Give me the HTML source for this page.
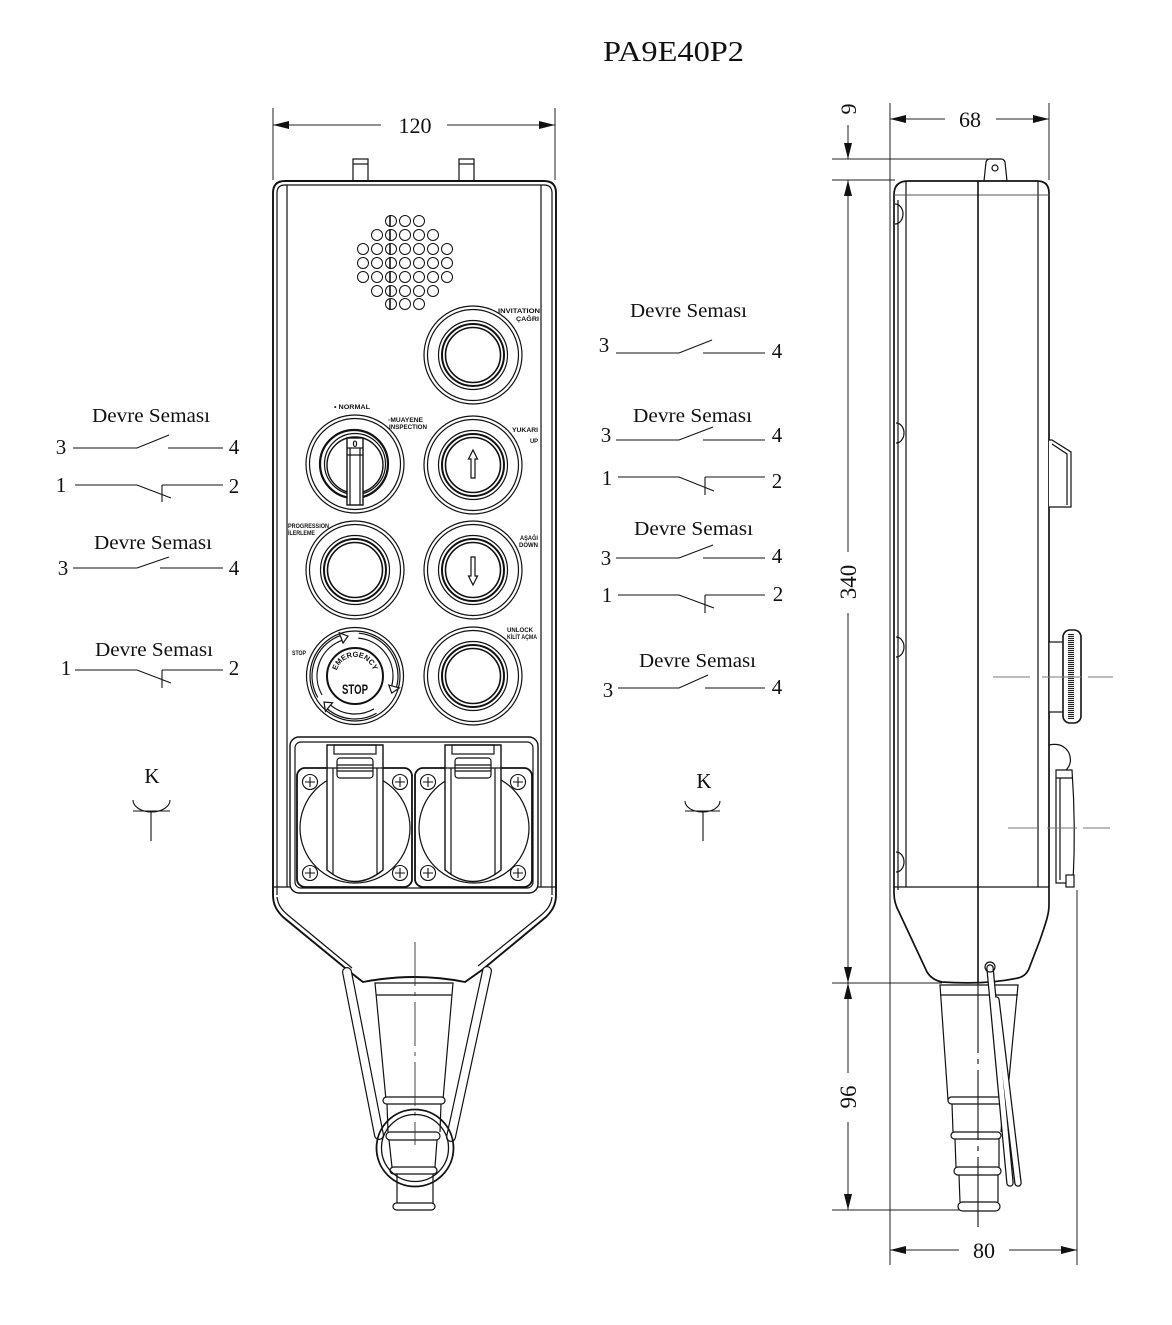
<!DOCTYPE html>
<html><head><meta charset="utf-8">
<style>
html,body{margin:0;padding:0;background:#fff;}
svg{display:block;}
text{font-family:"Liberation Serif",serif;fill:#111;stroke:none;}
.s{font-family:"Liberation Sans",sans-serif;font-weight:bold;}
</style></head><body>
<svg width="1172" height="1325" viewBox="0 0 1172 1325" xmlns="http://www.w3.org/2000/svg">
<defs>
<pattern id="kn" width="4" height="2" patternUnits="userSpaceOnUse"><rect width="4" height="2" fill="#fff"/><rect width="4" height="1.1" fill="#222"/></pattern>
<path id="emarc" d="M336.3,679.3 A19,19 0 1 1 373.7,679.3"/>
</defs>

<!-- Title -->
<text x="603" y="61" font-size="28" textLength="141" lengthAdjust="spacingAndGlyphs">PA9E40P2</text>

<g fill="none" stroke="#222" stroke-width="1">
<!-- ===== FRONT VIEW dimension 120 ===== -->
<line x1="273" y1="108" x2="273" y2="180"/>
<line x1="555" y1="108" x2="555" y2="180"/>
<line x1="273" y1="125" x2="381" y2="125"/>
<line x1="447" y1="125" x2="555" y2="125"/>
</g>
<polygon points="273,125 289,121 289,129" fill="#111"/>
<polygon points="555,125 539,121 539,129" fill="#111"/>
<text x="415" y="133" font-size="22" text-anchor="middle">120</text>

<g fill="none" stroke="#111" stroke-width="1.2">
<!-- pins -->
<rect x="353" y="159" width="15" height="22" fill="#fff"/>
<line x1="353" y1="164" x2="368" y2="164"/>
<rect x="459" y="159" width="15" height="22" fill="#fff"/>
<line x1="459" y1="164" x2="474" y2="164"/>

<!-- body -->
<path d="M273,895 L273,193 Q273,181 285,181 L544,181 Q556,181 556,193 L556,895 C556,905 552,911 546,917 L482,970 L465,982 Q415,972 363,982 L350,972 L283,917 C277,911 273,905 273,895 Z" stroke-width="1.9" fill="#fff"/>
<path d="M277,895 L277,193 Q277,185 285,185 L544,185 Q552,185 552,193 L552,895"/>
<path d="M277,897 C278,906 283,911 289,916 L352,968"/>
<path d="M552,897 C551,906 546,911 540,916 L478,966"/>
<line x1="287" y1="185" x2="287" y2="887"/>
<line x1="541" y1="185" x2="541" y2="887"/>
<line x1="273" y1="887" x2="556" y2="887"/>

<!-- speaker grill -->
<g stroke-width="1">
<circle cx="391" cy="221" r="5.5"/><circle cx="405" cy="221" r="5.5"/><circle cx="419" cy="221" r="5.5"/>
<circle cx="377" cy="235" r="5.5"/><circle cx="391" cy="235" r="5.5"/><circle cx="405" cy="235" r="5.5"/><circle cx="419" cy="235" r="5.5"/><circle cx="433" cy="235" r="5.5"/>
<circle cx="363" cy="249" r="5.5"/><circle cx="377" cy="249" r="5.5"/><circle cx="391" cy="249" r="5.5"/><circle cx="405" cy="249" r="5.5"/><circle cx="419" cy="249" r="5.5"/><circle cx="433" cy="249" r="5.5"/><circle cx="447" cy="249" r="5.5"/>
<circle cx="363" cy="263" r="5.5"/><circle cx="377" cy="263" r="5.5"/><circle cx="391" cy="263" r="5.5"/><circle cx="405" cy="263" r="5.5"/><circle cx="419" cy="263" r="5.5"/><circle cx="433" cy="263" r="5.5"/><circle cx="447" cy="263" r="5.5"/>
<circle cx="363" cy="277" r="5.5"/><circle cx="377" cy="277" r="5.5"/><circle cx="391" cy="277" r="5.5"/><circle cx="405" cy="277" r="5.5"/><circle cx="419" cy="277" r="5.5"/><circle cx="433" cy="277" r="5.5"/><circle cx="447" cy="277" r="5.5"/>
<circle cx="377" cy="291" r="5.5"/><circle cx="391" cy="291" r="5.5"/><circle cx="405" cy="291" r="5.5"/><circle cx="419" cy="291" r="5.5"/><circle cx="433" cy="291" r="5.5"/>
<circle cx="391" cy="304" r="5.5"/><circle cx="405" cy="304" r="5.5"/><circle cx="419" cy="304" r="5.5"/>
<line x1="390" y1="215" x2="390" y2="310" stroke-width="1.6" stroke-dasharray="12 2"/>
</g>

<!-- INVITATION button -->
<circle cx="473" cy="355" r="49"/><circle cx="473" cy="355" r="45.5"/>
<circle cx="473" cy="355" r="34.5"/><circle cx="473" cy="355" r="31" stroke-width="2"/><circle cx="473" cy="355" r="27.5" stroke-width="1.6"/>

<!-- SELECTOR -->
<circle cx="355" cy="464" r="49"/><circle cx="355" cy="464" r="45.5"/>
<circle cx="354" cy="464" r="34" stroke-width="2.2"/><circle cx="355" cy="464" r="30.5"/><circle cx="355" cy="465" r="28" stroke-width="1.4"/>
<rect x="347" y="438" width="16" height="67" fill="#fff" stroke-width="1.4"/>
<line x1="350" y1="448" x2="350" y2="505"/><line x1="360" y1="448" x2="360" y2="505"/>
<line x1="347" y1="448" x2="363" y2="448"/><line x1="347" y1="455" x2="363" y2="455"/>

<!-- YUKARI -->
<circle cx="473" cy="465" r="49"/><circle cx="473" cy="465" r="45.5"/>
<circle cx="473" cy="465" r="34.5"/><circle cx="473" cy="465" r="31" stroke-width="2"/><circle cx="473" cy="465" r="27.5" stroke-width="1.6"/>
<polygon points="473,450 477.5,459 475,459 475,478 471,478 471,459 468.5,459"/>

<!-- PROGRESSION -->
<circle cx="355" cy="570" r="49"/><circle cx="355" cy="570" r="45.5"/>
<circle cx="355" cy="570" r="34.5"/><circle cx="355" cy="570" r="31" stroke-width="2"/><circle cx="355" cy="570" r="27.5" stroke-width="1.6"/>

<!-- ASAGI -->
<circle cx="473" cy="570" r="49"/><circle cx="473" cy="570" r="45.5"/>
<circle cx="473" cy="570" r="34.5"/><circle cx="473" cy="570" r="31" stroke-width="2"/><circle cx="473" cy="570" r="27.5" stroke-width="1.6"/>
<polygon points="473,585 477.5,576 475,576 475,557 471,557 471,576 468.5,576"/>

<!-- UNLOCK -->
<circle cx="473" cy="676" r="49"/><circle cx="473" cy="676" r="45.5"/>
<circle cx="473" cy="676" r="34.5"/><circle cx="473" cy="676" r="31" stroke-width="2"/><circle cx="473" cy="676" r="27.5" stroke-width="1.6"/>

<!-- EMERGENCY -->
<circle cx="355" cy="676" r="48.5"/><circle cx="355" cy="676" r="45"/>
<circle cx="355" cy="676" r="43" stroke-dasharray="75 300" transform="rotate(-85 355 676)"/>
<circle cx="355" cy="676" r="38" stroke-dasharray="66.3 300" transform="rotate(-85 355 676)"/>
<circle cx="355" cy="676" r="43" stroke-dasharray="52.5 300" transform="rotate(60 355 676)"/>
<circle cx="355" cy="676" r="38" stroke-dasharray="46.4 300" transform="rotate(60 355 676)"/>
<circle cx="355" cy="676" r="43" stroke-dasharray="75 300" transform="rotate(150 355 676)"/>
<circle cx="355" cy="676" r="38" stroke-dasharray="66.3 300" transform="rotate(150 355 676)"/>
<polygon points="399.4,687.9 388.8,685.1 391.7,693.1" fill="#fff"/>
<polygon points="325.4,711.2 332.5,702.8 324.0,702.0" fill="#fff"/>
<polygon points="339.3,632.8 343.0,643.1 348.0,636.1" fill="#fff"/>
<circle cx="355" cy="676" r="28" stroke-width="2"/>

<!-- socket panel -->
<rect x="290" y="737" width="248" height="156" rx="9" fill="#fff" stroke-width="1.4"/>
<rect x="295" y="742" width="238" height="146" rx="6"/>
<rect x="297" y="768" width="115" height="119" rx="8" stroke-width="1.8"/>
<rect x="415" y="768" width="117" height="119" rx="8" stroke-width="1.8"/>
<circle cx="355" cy="828" r="55"/>
<circle cx="474" cy="828" r="55"/>
<!-- screws -->
<g stroke-width="1.1">
<circle cx="310" cy="782" r="7.5"/><path d="M305,782h10M310,777v10"/>
<circle cx="400" cy="782" r="7.5"/><path d="M395,782h10M400,777v10"/>
<circle cx="310" cy="873" r="7.5"/><path d="M305,873h10M310,868v10"/>
<circle cx="400" cy="873" r="7.5"/><path d="M395,873h10M400,868v10"/>
<circle cx="428" cy="782" r="7.5"/><path d="M423,782h10M428,777v10"/>
<circle cx="518" cy="782" r="7.5"/><path d="M513,782h10M518,777v10"/>
<circle cx="428" cy="873" r="7.5"/><path d="M423,873h10M428,868v10"/>
<circle cx="518" cy="873" r="7.5"/><path d="M513,873h10M518,868v10"/>
</g>
<!-- lids -->
<path d="M327,745 L383,745 L383,870 Q355,893 327,870 Z" fill="#fff" stroke-width="1.4"/>
<line x1="333" y1="768" x2="333" y2="875"/><line x1="377" y1="768" x2="377" y2="875"/>
<rect x="334" y="745" width="42" height="9"/>
<rect x="337" y="758" width="36" height="20" rx="3"/>
<line x1="337" y1="765" x2="373" y2="765"/><line x1="337" y1="771" x2="373" y2="771"/>
<line x1="327" y1="768" x2="383" y2="768"/>
<path d="M445,745 L501,745 L501,870 Q473,893 445,870 Z" fill="#fff" stroke-width="1.4"/>
<line x1="451" y1="768" x2="451" y2="875"/><line x1="495" y1="768" x2="495" y2="875"/>
<rect x="452" y="745" width="42" height="9"/>
<rect x="455" y="758" width="36" height="20" rx="3"/>
<line x1="455" y1="765" x2="491" y2="765"/><line x1="455" y1="771" x2="491" y2="771"/>
<line x1="445" y1="768" x2="501" y2="768"/>

<!-- cable gland front -->
<path d="M375,983 L453,983 L443,1100 L386,1100 Z" fill="#fff"/>
<line x1="376" y1="995" x2="452" y2="995"/>
<rect x="383" y="1097" width="62" height="7" rx="3.5" fill="#fff"/>
<path d="M387,1104 L388,1132 M441,1104 L440,1132"/>
<rect x="386" y="1132" width="54" height="8" rx="4" fill="#fff"/>
<path d="M389,1140 L392,1167 M437,1140 L435,1167"/>
<rect x="390" y="1167" width="47" height="7" rx="3.5" fill="#fff"/>
<path d="M397,1174 L397,1203 M433,1174 L433,1203"/>
<rect x="393" y="1203" width="42" height="7" rx="3.5" fill="#fff"/>
</g>
<line x1="415" y1="942" x2="415" y2="1145" stroke="#333" stroke-width="0.9" stroke-dasharray="44 6 4 6"/>
<!-- clip rods front -->
<g fill="none" stroke-linecap="round">
<line x1="347" y1="972" x2="379" y2="1135" stroke="#111" stroke-width="10"/>
<line x1="347" y1="972" x2="379" y2="1135" stroke="#fff" stroke-width="7.6"/>
<line x1="487" y1="971" x2="451" y2="1137" stroke="#111" stroke-width="10"/>
<line x1="487" y1="971" x2="451" y2="1137" stroke="#fff" stroke-width="7.6"/>
</g>
<g fill="none" stroke="#111">
<circle cx="415" cy="1148" r="38.5" stroke-width="1.8"/>
<circle cx="415" cy="1148" r="33.5" stroke-width="1.3"/>
</g>

<!-- front labels -->
<g class="s" font-size="6.5">
<text class="s" x="498" y="313" textLength="42" lengthAdjust="spacingAndGlyphs">INVITATION</text>
<text class="s" x="516" y="321" textLength="23" lengthAdjust="spacingAndGlyphs">ÇAĞRI</text>
<text class="s" x="334" y="409" textLength="36" lengthAdjust="spacingAndGlyphs">• NORMAL</text>
<text class="s" x="388" y="422" textLength="35" lengthAdjust="spacingAndGlyphs">▫MUAYENE</text>
<text class="s" x="389" y="429" textLength="38" lengthAdjust="spacingAndGlyphs">INSPECTION</text>
<text class="s" x="512" y="432" textLength="26" lengthAdjust="spacingAndGlyphs">YUKARI</text>
<text class="s" x="530" y="443" textLength="8" lengthAdjust="spacingAndGlyphs">UP</text>
<text class="s" x="288" y="528" textLength="41" lengthAdjust="spacingAndGlyphs">PROGRESSION</text>
<text class="s" x="288" y="535" textLength="27" lengthAdjust="spacingAndGlyphs">İLERLEME</text>
<text class="s" x="520" y="540" textLength="18" lengthAdjust="spacingAndGlyphs">AŞAĞI</text>
<text class="s" x="519" y="547" textLength="19" lengthAdjust="spacingAndGlyphs">DOWN</text>
<text class="s" x="292" y="655" textLength="14" lengthAdjust="spacingAndGlyphs">STOP</text>
<text class="s" x="507" y="632" textLength="26" lengthAdjust="spacingAndGlyphs">UNLOCK</text>
<text class="s" x="507" y="639" textLength="30" lengthAdjust="spacingAndGlyphs">KİLİT AÇMA</text>
</g>
<text class="s" x="355" y="447" font-size="9" text-anchor="middle">0</text>
<text class="s" font-size="7.5"><textPath href="#emarc" startOffset="50%" text-anchor="middle">EMERGENCY</textPath></text>
<text class="s" x="342" y="694" font-size="14" textLength="26" lengthAdjust="spacingAndGlyphs">STOP</text>

<!-- ===== SIDE VIEW ===== -->
<g fill="none" stroke="#222" stroke-width="1">
<line x1="890" y1="103" x2="890" y2="1265"/>
<line x1="1049" y1="103" x2="1049" y2="180"/>
<line x1="890" y1="119" x2="945" y2="119"/>
<line x1="996" y1="119" x2="1049" y2="119"/>
<line x1="1077" y1="890" x2="1077" y2="1265"/>
<line x1="890" y1="1250" x2="959" y2="1250"/>
<line x1="1009" y1="1250" x2="1077" y2="1250"/>
<line x1="832" y1="159" x2="1000" y2="159"/>
<line x1="832" y1="180" x2="895" y2="180"/>
<line x1="832" y1="983" x2="942" y2="983"/>
<line x1="832" y1="1210" x2="960" y2="1210"/>
<line x1="848" y1="125" x2="848" y2="159"/>
<line x1="848" y1="180" x2="848" y2="552"/>
<line x1="848" y1="613" x2="848" y2="1073"/>
<line x1="848" y1="1122" x2="848" y2="1210"/>
</g>
<g fill="#111">
<polygon points="890,119 906,115 906,123"/>
<polygon points="1049,119 1033,115 1033,123"/>
<polygon points="890,1250 906,1246 906,1254"/>
<polygon points="1077,1250 1061,1246 1061,1254"/>
<polygon points="848,159 844,143 852,143"/>
<polygon points="848,180 844,196 852,196"/>
<polygon points="848,983 844,967 852,967"/>
<polygon points="848,983 844,999 852,999"/>
<polygon points="848,1210 844,1194 852,1194"/>
</g>
<text x="970" y="127" font-size="22" text-anchor="middle">68</text>
<text x="984" y="1258" font-size="22" text-anchor="middle">80</text>
<text transform="translate(856,109) rotate(-90)" font-size="22" text-anchor="middle">9</text>
<text transform="translate(856,582) rotate(-90)" font-size="23" text-anchor="middle">340</text>
<text transform="translate(856,1097) rotate(-90)" font-size="23" text-anchor="middle">96</text>

<g fill="none" stroke="#111" stroke-width="1.2">
<!-- tab -->
<path d="M984,181 L986,162 Q987,159 990,159 L1001,159 Q1004,159 1005,162 L1007,181"/>
<circle cx="995" cy="168" r="3"/>
<!-- body -->
<path d="M894,195 Q894,181 908,181 L1037,181 Q1049,181 1049,193 L1049,905 C1049,915 1045,925 1040,940 L1030,966 Q1027,976 1018,978 Q985,985 942,982 Q932,980 927,972 L899,912 Q894,903 894,893 Z" stroke-width="1.7" fill="#fff"/>
<line x1="898" y1="200" x2="898" y2="890"/>
<line x1="906" y1="181" x2="906" y2="887"/>
<line x1="1038" y1="181" x2="1038" y2="887"/>
<line x1="894" y1="195" x2="1049" y2="195" stroke="#555" stroke-width="0.9"/>
<line x1="894" y1="887" x2="1049" y2="887"/>
<line x1="978" y1="181" x2="978" y2="983" stroke-width="1.6"/>
<!-- bumps -->
<path d="M895,204 A8,10 0 0 1 895,224"/>
<path d="M896,423 A8,10 0 0 1 896,443"/>
<path d="M896,637 A8,10 0 0 1 896,657"/>
<path d="M896,852 A8,10 0 0 1 896,872"/>
<!-- selector projection -->
<path d="M1049,440 L1052,440 L1071,452 L1071,507 L1049,507" fill="#fff"/>
<path d="M1052,444 L1067,454 L1067,505"/>
<!-- emergency knob -->
<rect x="1049" y="642" width="16" height="70" fill="#fff"/>
<rect x="1063" y="630" width="18" height="93" rx="7" fill="#fff" stroke-width="1.6"/>
<rect x="1068" y="634" width="6" height="85" fill="url(#kn)" stroke="none"/>
<!-- socket lid side -->
<path d="M1049,745 Q1063,742 1069,753 Q1073,763 1066,770"/>
<path d="M1056,770 L1072,770 Q1076,826 1073,883 L1056,883 Z" fill="#fff"/>
<line x1="1056" y1="778" x2="1073" y2="778"/>
<line x1="1060" y1="778" x2="1060" y2="880"/>
<rect x="1066" y="875" width="8" height="12" fill="#fff"/>
<!-- cable side -->
<path d="M940,985 L1018,985 L1007,1100 L948,1100 Z" fill="#fff"/>
<line x1="940" y1="995" x2="1018" y2="995"/>
<rect x="948" y="1097" width="60" height="7" rx="3.5" fill="#fff"/>
<path d="M952,1104 L953,1132 M1003,1104 L1001,1132"/>
<rect x="951" y="1132" width="50" height="7" rx="3.5" fill="#fff"/>
<path d="M955,1139 L956,1167 M999,1139 L999,1167"/>
<rect x="954" y="1167" width="47" height="8" rx="4" fill="#fff"/>
<path d="M959,1175 L960,1202 M998,1175 L998,1202"/>
<rect x="958" y="1202" width="42" height="9" rx="4.5" fill="#fff"/>
</g>
<line x1="978" y1="983" x2="978" y2="1233" stroke="#222" stroke-width="1.2" stroke-dasharray="70 6 5 6"/>
<g fill="none" stroke-linecap="round">
<line x1="990" y1="968" x2="1010" y2="1183" stroke="#111" stroke-width="7.5"/>
<line x1="996" y1="1000" x2="1018" y2="1183" stroke="#111" stroke-width="7.5"/>
<line x1="990" y1="968" x2="1010" y2="1183" stroke="#fff" stroke-width="5"/>
<line x1="996" y1="1000" x2="1018" y2="1183" stroke="#fff" stroke-width="5"/>
</g>
<circle cx="990" cy="967" r="5" fill="none" stroke="#111" stroke-width="1.2"/>
<!-- centre lines side -->
<g stroke="#777" stroke-width="1">
<line x1="993" y1="677" x2="1030" y2="677"/><line x1="1042" y1="677" x2="1082" y2="677"/><line x1="1088" y1="677" x2="1113" y2="677"/>
<line x1="1008" y1="828" x2="1037" y2="828"/><line x1="1047" y1="828" x2="1077" y2="828"/><line x1="1083" y1="828" x2="1110" y2="828"/>
</g>

<!-- ===== LEFT SCHEMATICS ===== -->
<g font-size="21">
<text x="92" y="422" font-size="20" textLength="118" lengthAdjust="spacingAndGlyphs">Devre Seması</text>
<text x="61" y="454" text-anchor="middle">3</text><text x="234" y="454" text-anchor="middle">4</text>
<text x="61" y="492" text-anchor="middle">1</text><text x="234" y="493" text-anchor="middle">2</text>
<text x="94" y="549" font-size="20" textLength="118" lengthAdjust="spacingAndGlyphs">Devre Seması</text>
<text x="63" y="575" text-anchor="middle">3</text><text x="234" y="575" text-anchor="middle">4</text>
<text x="95" y="656" font-size="20" textLength="118" lengthAdjust="spacingAndGlyphs">Devre Seması</text>
<text x="66" y="675" text-anchor="middle">1</text><text x="234" y="675" text-anchor="middle">2</text>
<text x="152" y="783" text-anchor="middle">K</text>
<text x="630" y="317" font-size="20" textLength="117" lengthAdjust="spacingAndGlyphs">Devre Seması</text>
<text x="604" y="352" text-anchor="middle">3</text><text x="777" y="358" text-anchor="middle">4</text>
<text x="633" y="422" font-size="20" textLength="119" lengthAdjust="spacingAndGlyphs">Devre Seması</text>
<text x="606" y="442" text-anchor="middle">3</text><text x="777" y="442" text-anchor="middle">4</text>
<text x="607" y="485" text-anchor="middle">1</text><text x="777" y="488" text-anchor="middle">2</text>
<text x="634" y="535" font-size="20" textLength="119" lengthAdjust="spacingAndGlyphs">Devre Seması</text>
<text x="606" y="565" text-anchor="middle">3</text><text x="777" y="563" text-anchor="middle">4</text>
<text x="607" y="602" text-anchor="middle">1</text><text x="778" y="601" text-anchor="middle">2</text>
<text x="639" y="667" font-size="20" textLength="117" lengthAdjust="spacingAndGlyphs">Devre Seması</text>
<text x="608" y="697" text-anchor="middle">3</text><text x="777" y="694" text-anchor="middle">4</text>
<text x="704" y="788" text-anchor="middle">K</text>
</g>
<g fill="none" stroke="#111" stroke-width="1.1">
<path d="M73,448 H137 L169,435 M168,448 H223"/>
<path d="M75,485 H137 L171,498 M162,485 V502 M162,485 H223"/>
<path d="M73,568 H137 L169,557 M160,568 H223"/>
<path d="M75,670 H137 L171,683 M162,670 V688 M162,670 H223"/>
<path d="M133,800 A18.5,12 0 0 0 170,800 M133,811 H170 M151,811 V841"/>

<path d="M616,353 H679 L712,340 M703,353 H765"/>
<path d="M616,440 H679 L713,427 M703,440 H765"/>
<path d="M618,477 H679 L714,491 M705,477 V495 M705,477 H765"/>
<path d="M616,558 H679 L713,545 M703,558 H765"/>
<path d="M618,595 H679 L714,608 M705,595 V613 M705,595 H765"/>
<path d="M618,688 H679 L708,675 M705,688 H765"/>
<path d="M685,801 A17.5,11 0 0 0 720,801 M685,811 H720 M703,811 V841"/>
</g>
</svg>
</body></html>
